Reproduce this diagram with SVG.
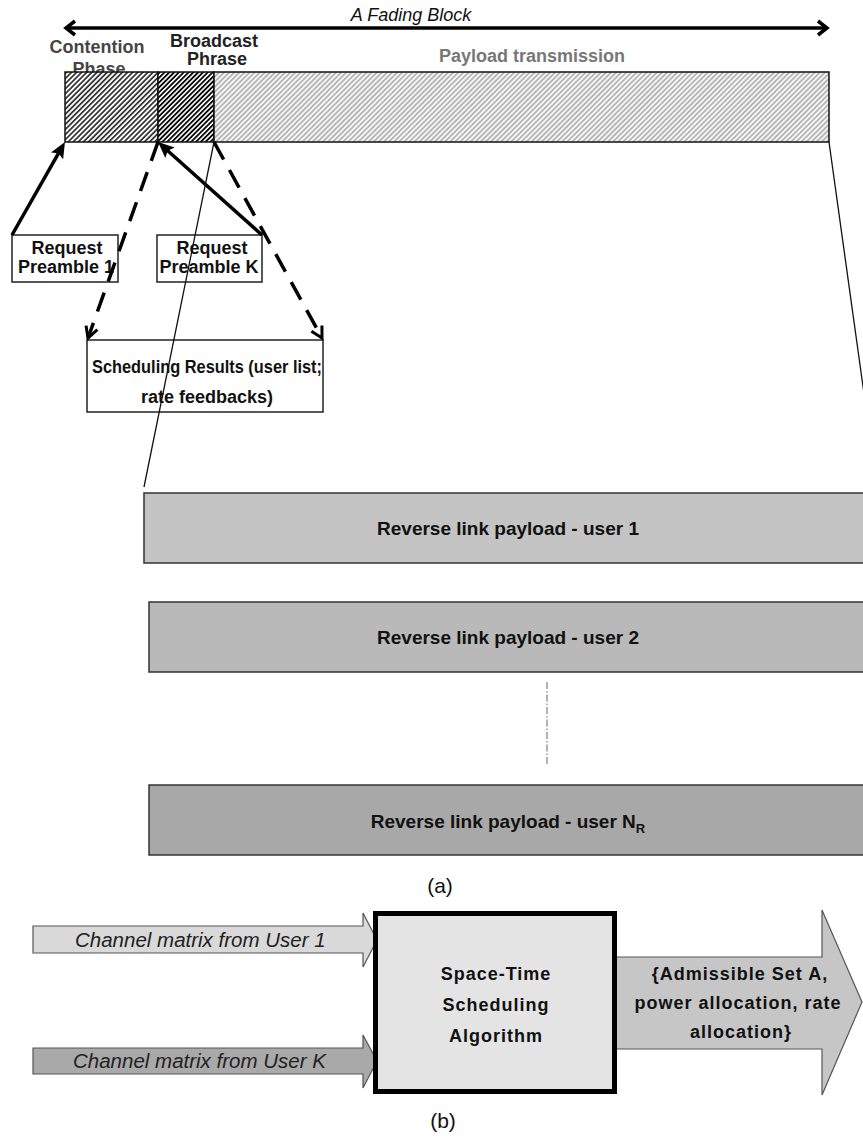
<svg xmlns="http://www.w3.org/2000/svg" width="863" height="1140" viewBox="0 0 863 1140">
<style>
 .lbl{font-family:"Liberation Sans",Arial,sans-serif;font-weight:bold;font-size:18px;fill:#111;text-anchor:middle}
 .box{fill:#fff;stroke:#222;stroke-width:1.5}
 .bar{stroke:#333;stroke-width:1.5}
 .bt{font-family:"Liberation Sans",Arial,sans-serif;font-weight:bold;font-size:19px;fill:#111;text-anchor:middle}
 .solid{fill:none;stroke:#000;stroke-width:3.5}
 .dash{fill:none;stroke:#000;stroke-width:3.5;stroke-dasharray:20 12}
 .thin{fill:none;stroke:#111;stroke-width:1.3}
 .ch{font-family:"Liberation Sans",Arial,sans-serif;font-style:italic;font-size:20.5px;fill:#222}
 .st{font-family:"Liberation Sans",Arial,sans-serif;font-weight:bold;font-size:18px;letter-spacing:1px;fill:#111;text-anchor:middle}
 .cap{font-family:"Liberation Sans",Arial,sans-serif;font-size:21px;fill:#111;text-anchor:middle}
 .blk{stroke:#555;stroke-width:1.2}
</style>
<defs>
 <pattern id="hc" patternUnits="userSpaceOnUse" width="3.6" height="3.6" patternTransform="rotate(45)">
  <rect width="3.6" height="3.6" fill="#fff"/>
  <line x1="0.9" y1="0" x2="0.9" y2="3.6" stroke="#111" stroke-width="1.5"/>
 </pattern>
 <pattern id="hb" patternUnits="userSpaceOnUse" width="3.4" height="3.4" patternTransform="rotate(45)">
  <rect width="3.4" height="3.4" fill="#fff"/>
  <line x1="0.9" y1="0" x2="0.9" y2="3.4" stroke="#000" stroke-width="1.8"/>
 </pattern>
 <pattern id="hp" patternUnits="userSpaceOnUse" width="3.6" height="3.6" patternTransform="rotate(45)">
  <rect width="3.6" height="3.6" fill="#f6f6f6"/>
  <line x1="0.9" y1="0" x2="0.9" y2="3.6" stroke="#8c8c8c" stroke-width="1.1"/>
 </pattern>
 <marker id="tri" markerUnits="userSpaceOnUse" markerWidth="18" markerHeight="14" refX="6" refY="7" orient="auto">
  <path d="M0,0 L16,7 L0,14 L3,7 Z" fill="#000"/>
 </marker>
 <marker id="vee" markerUnits="userSpaceOnUse" markerWidth="16" markerHeight="16" refX="13" refY="8" orient="auto">
  <path d="M2,2 L13,8 L2,14" fill="none" stroke="#000" stroke-width="3"/>
 </marker>
 <marker id="chev" markerUnits="userSpaceOnUse" markerWidth="14" markerHeight="18" refX="11" refY="9" orient="auto-start-reverse">
  <path d="M2,2 L11,9 L2,16" fill="none" stroke="#000" stroke-width="3.5"/>
 </marker>
</defs>

<g id="fading-block">
 <text x="411" y="21" style="font-family:'Liberation Sans',Arial,sans-serif;font-style:italic;font-size:18px;fill:#111" text-anchor="middle">A Fading Block</text>
</g>

<g id="labels">
 <text class="lbl" x="97" y="53" style="fill:#444">Contention</text>
 <text class="lbl" x="99" y="75" style="fill:#444">Phase</text>
 <text class="lbl" x="214" y="47" style="fill:#222">Broadcast</text>
 <text class="lbl" x="217" y="65" style="fill:#222">Phrase</text>
 <text class="lbl" x="532" y="62" style="fill:#777">Payload transmission</text>
</g>

<g id="frame">
 <rect x="65" y="72" width="93" height="70" fill="url(#hc)" stroke="#111" stroke-width="1.5"/>
 <rect x="158" y="72" width="56" height="70" fill="url(#hb)" stroke="#111" stroke-width="1.5"/>
 <rect x="214" y="72" width="615" height="70" fill="url(#hp)" stroke="#111" stroke-width="1.5"/>
</g>

<g id="req1">
 <rect class="box" x="12" y="235" width="106" height="47"/>
 <text class="lbl" x="67" y="254">Request</text>
 <text class="lbl" x="66" y="273">Preamble 1</text>
</g>
<g id="reqK">
 <rect class="box" x="157" y="235" width="105" height="47"/>
 <text class="lbl" x="212" y="254">Request</text>
 <text class="lbl" x="209" y="273">Preamble K</text>
</g>
<g id="sched">
 <rect class="box" x="87" y="340" width="236" height="72"/>
 <text class="lbl" x="207" y="373" font-size="17" textLength="230" lengthAdjust="spacingAndGlyphs">Scheduling Results (user list;</text>
 <text class="lbl" x="207" y="403" font-size="17">rate feedbacks)</text>
</g>

<g id="user1">
 <rect class="bar" x="144" y="493" width="740" height="70" fill="#c4c4c4"/>
 <text class="bt" x="508" y="535">Reverse link payload - user 1</text>
</g>
<g id="user2">
 <rect class="bar" x="149" y="602" width="740" height="70" fill="#b9b9b9"/>
 <text class="bt" x="508" y="644">Reverse link payload - user 2</text>
</g>
<g id="userNR">
 <rect class="bar" x="149" y="785" width="740" height="70" fill="#a8a8a8"/>
 <text class="bt" x="508" y="828">Reverse link payload - user N<tspan font-size="13" dy="5">R</tspan></text>
</g>

<g id="connectors">
 <line x1="66" y1="28" x2="827" y2="28" stroke="#000" stroke-width="3.5" marker-start="url(#chev)" marker-end="url(#chev)"/>
 <line class="solid" x1="12" y1="235" x2="60" y2="150.7" marker-end="url(#tri)"/>
 <line class="solid" x1="262" y1="235" x2="165.5" y2="148.7" marker-end="url(#tri)"/>
 <line class="dash" x1="158" y1="142" x2="88" y2="338" marker-end="url(#vee)"/>
 <line class="dash" x1="214" y1="142" x2="322" y2="338" marker-end="url(#vee)"/>
 <line class="thin" x1="214" y1="142" x2="144" y2="487"/>
 <line class="thin" x1="829" y1="142" x2="877" y2="487"/>
 <line x1="547" y1="682" x2="547" y2="765" stroke="#666" stroke-width="1" stroke-dasharray="7 2 1.5 2"/>
</g>

<text class="cap" x="440" y="893">(a)</text>

<g id="in-user1">
 <path class="blk" d="M33,926 L363,926 L363,913 L377,940 L363,967 L363,953 L33,953 Z" fill="#d9d9d9"/>
 <text class="ch" x="75" y="947">Channel matrix from User 1</text>
</g>
<g id="in-userK">
 <path class="blk" d="M33,1048 L363,1048 L363,1035 L377,1061 L363,1088 L363,1074 L33,1074 Z" fill="#a9a9a9"/>
 <text class="ch" x="73" y="1068">Channel matrix from User K</text>
</g>
<g id="output">
 <path class="blk" d="M612,957 L822,957 L822,910 L862,1002 L822,1095 L822,1049 L612,1049 Z" fill="#c6c6c6"/>
 <text class="st" x="740" y="980">{Admissible Set A,</text>
 <text class="st" x="738" y="1009">power allocation, rate</text>
 <text class="st" x="741" y="1038">allocation}</text>
</g>
<g id="scheduler">
 <rect x="375.5" y="913.5" width="239" height="178" fill="#e4e4e4" stroke="#000" stroke-width="5"/>
 <text class="st" x="496" y="980">Space-Time</text>
 <text class="st" x="496" y="1011">Scheduling</text>
 <text class="st" x="496" y="1042">Algorithm</text>
</g>

<text class="cap" x="443" y="1128">(b)</text>
</svg>
